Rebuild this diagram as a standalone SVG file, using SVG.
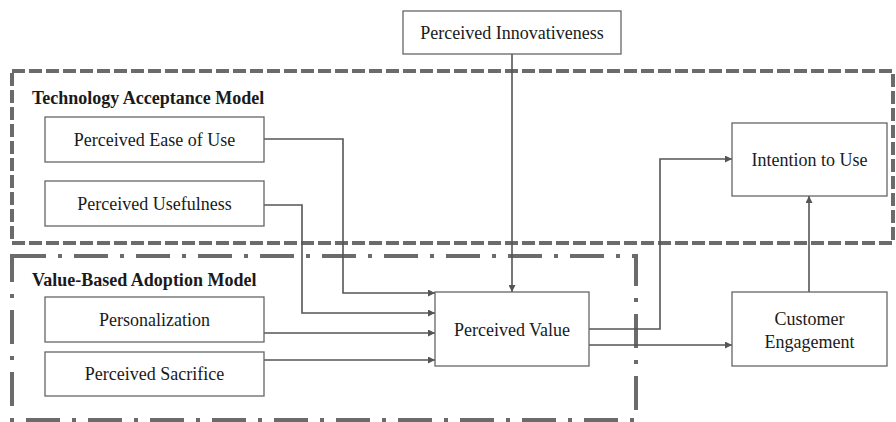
<svg xmlns="http://www.w3.org/2000/svg" width="896" height="422" viewBox="0 0 896 422">
<style>
.node rect{fill:#fff;stroke:#666;stroke-width:1.3}
text{font-family:"Liberation Serif","DejaVu Serif","Times New Roman",serif;fill:#1a1a1a}
.node text{font-size:18px;text-anchor:middle}
.lbl{font-size:18px;font-weight:bold;text-anchor:start}
.conn path{fill:none;stroke:#555;stroke-width:1.6}
.tam{fill:none;stroke:#6b6b6b;stroke-width:4;stroke-dasharray:13 4}
.vbam{fill:none;stroke:#6b6b6b;stroke-width:4;stroke-dasharray:34 12 4 12}
</style>
<defs>
<marker id="arr" viewBox="0 0 10 10" refX="10" refY="5" markerWidth="7" markerHeight="7" markerUnits="userSpaceOnUse" orient="auto">
<path d="M0,0 L10,5 L0,10 z" fill="#555"/>
</marker>
</defs>
<rect width="896" height="422" fill="#fff"/>
<g id="group-tam">
<rect class="tam" x="12" y="71" width="881" height="172"/>
<text class="lbl" x="32" y="104">Technology Acceptance Model</text>
</g>
<g id="group-vbam">
<rect class="vbam" x="12" y="256" width="624" height="164"/>
<text class="lbl" x="32" y="286">Value-Based Adoption Model</text>
</g>
<g class="conn" id="connectors">
<path d="M264,139 H343 V293 H435" marker-end="url(#arr)"/>
<path d="M264,205 H302 V313 H435" marker-end="url(#arr)"/>
<path d="M264,333 H435" marker-end="url(#arr)"/>
<path d="M264,360 H435" marker-end="url(#arr)"/>
<path d="M512,54 V292" marker-end="url(#arr)"/>
<path d="M589,329 H660 V159 H732" marker-end="url(#arr)"/>
<path d="M589,345 H732" marker-end="url(#arr)"/>
<path d="M809,292 V196" marker-end="url(#arr)"/>
</g>
<g class="node" id="n-innov"><rect x="403" y="11" width="218" height="43"/><text x="512" y="39">Perceived Innovativeness</text></g>
<g class="node" id="n-ease"><rect x="45" y="117" width="219" height="45"/><text x="154.5" y="146">Perceived Ease of Use</text></g>
<g class="node" id="n-useful"><rect x="45" y="181" width="219" height="45"/><text x="154.5" y="210">Perceived Usefulness</text></g>
<g class="node" id="n-pers"><rect x="45" y="297" width="219" height="45"/><text x="154.5" y="326">Personalization</text></g>
<g class="node" id="n-sacr"><rect x="45" y="352" width="219" height="44"/><text x="154.5" y="380">Perceived Sacrifice</text></g>
<g class="node" id="n-value"><rect x="435" y="292" width="154" height="74"/><text x="512" y="336">Perceived Value</text></g>
<g class="node" id="n-intent"><rect x="732" y="123" width="155" height="73"/><text x="809.5" y="166">Intention to Use</text></g>
<g class="node" id="n-engage"><rect x="732" y="292" width="155" height="74"/><text x="809.5" y="325">Customer</text><text x="809.5" y="348">Engagement</text></g>
</svg>
